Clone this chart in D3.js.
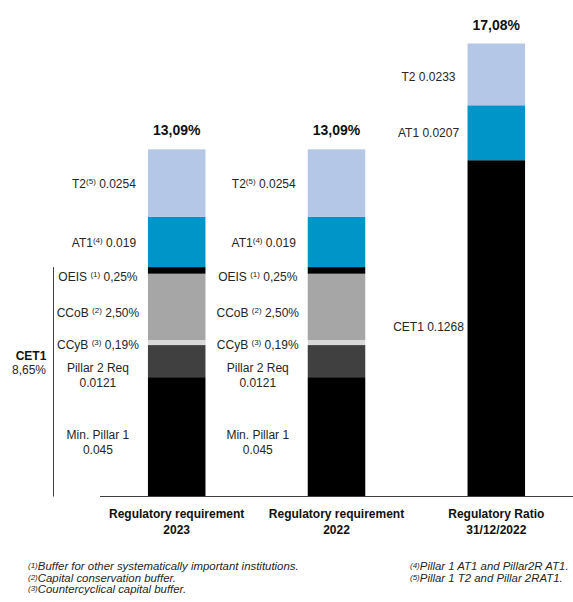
<!DOCTYPE html>
<html>
<head>
<meta charset="utf-8">
<script src="https://cdn.jsdelivr.net/npm/d3@7"></script>
<style>
  html, body { margin: 0; padding: 0; background: #fff; }
  svg { display: block; font-family: "Liberation Sans", Arial, sans-serif; }
</style>
</head>
<body>
<svg id="chart" width="573" height="602"></svg>
<script>
// Capital stack values, in percent of risk-weighted assets
const categories = ["Regulatory requirement\n2023", "Regulatory requirement\n2022", "Regulatory Ratio\n31/12/2022"];
const totalLabels = ["13,09%", "13,09%", "17,08%"];

// Requirement bars (2023 and 2022 share the same composition), bottom to top
const reqComponents = ["Min. Pillar 1", "Pillar 2 Req", "CCyB", "CCoB", "OEIS", "AT1", "T2"];
const req2023 = [4.5, 1.21, 0.19, 2.5, 0.25, 1.9, 2.54];
const req2022 = [4.5, 1.21, 0.19, 2.5, 0.25, 1.9, 2.54];
const reqLabels = [
  ["Min. Pillar 1", "0.045"],
  ["Pillar 2 Req", "0.0121"],
  ["CCyB", "(3)", " 0,19%"],
  ["CCoB", "(2)", " 2,50%"],
  ["OEIS", "(1)", " 0,25%"],
  ["AT1", "(4)", " 0.019"],
  ["T2", "(5)", " 0.0254"]
];

// Actual ratio bar, bottom to top
const ratioComponents = ["CET1", "AT1", "T2"];
const ratio2022 = [12.68, 2.07, 2.33];
const ratioLabels = [["CET1 0.1268"], ["AT1 0.0207"], ["T2 0.0233"]];

const cet1Label = ["CET1", "8,65%"];

const footnotesLeft = [
  ["(1)", "Buffer for other systematically important institutions."],
  ["(2)", "Capital conservation buffer."],
  ["(3)", "Countercyclical capital buffer."]
];
const footnotesRight = [
  ["(4)", "Pillar 1 AT1 and Pillar2R AT1."],
  ["(5)", "Pillar 1 T2 and Pillar 2RAT1."]
];

// ---- styling ----
const reqColors = ["#000000", "#404040", "#d9d9d9", "#a6a6a6", "#000000", "#0095c8", "#b4c7e7"];
const ratioColors = ["#000000", "#0095c8", "#b4c7e7"];
const reqNudge = [5, 14, 2, 6, 6, 1, 1];
const ratioNudge = [-2, 0, 2];
const textColor = "#262626";
const labelSize = 12;

const svg = d3.select("#chart");
const baseY = 496.5;

const y = d3.scaleLinear().domain([0, 17.08]).range([baseY, 43.5]);
const x = d3.scaleBand().domain(d3.range(3)).range([100, 573]).paddingInner(0.64).paddingOuter(0.3);

// stack helper
function stackOf(vals) {
  let acc = 0;
  return vals.map(v => { const s = { y0: acc, y1: acc + v, v }; acc += v; return s; });
}

const series = [
  { vals: req2023, colors: reqColors, labels: reqLabels, nudge: reqNudge },
  { vals: req2022, colors: reqColors, labels: reqLabels, nudge: reqNudge },
  { vals: ratio2022, colors: ratioColors, labels: ratioLabels, nudge: ratioNudge }
];

series.forEach((s, i) => {
  const g = svg.append("g");
  const st = stackOf(s.vals);
  const x0 = x(i), bw = x.bandwidth();
  g.selectAll("rect").data(st).join("rect")
    .attr("x", x0).attr("width", bw)
    .attr("y", d => y(d.y1)).attr("height", d => y(d.y0) - y(d.y1))
    .attr("fill", (d, k) => s.colors[k]);

  // segment labels, centred to the left of the bar
  st.forEach((d, k) => {
    const lab = s.labels[k];
    const cy = (y(d.y0) + y(d.y1)) / 2 + s.nudge[k];
    const isUpper = i < 2 && k >= 5;
    const cx = i === 2 ? x0 - 39 : x0 - (isUpper ? 44 : 50);
    const t = g.append("text").attr("x", cx).attr("text-anchor", "middle")
      .attr("font-size", labelSize).attr("fill", textColor);
    if (lab.length === 3) {
      t.attr("y", cy).attr("dy", "0.35em");
      t.append("tspan").text(lab[0] + (k === 5 || k === 6 ? "" : " "));
      t.append("tspan").attr("font-size", 8).attr("dy", -4).text(lab[1]);
      t.append("tspan").attr("dy", 4).text(lab[2]);
    } else if (lab.length === 2) {
      t.append("tspan").attr("x", cx).attr("y", cy - 7.5).attr("dy", "0.35em").text(lab[0]);
      t.append("tspan").attr("x", cx).attr("y", cy + 7.5).attr("dy", "0.35em").text(lab[1]);
    } else {
      t.attr("y", cy).attr("dy", "0.35em").text(lab[0]);
    }
  });

  // total on top
  const total = d3.sum(s.vals);
  svg.append("text").attr("x", x0 + bw / 2).attr("y", y(total) - 14)
    .attr("text-anchor", "middle").attr("font-size", 14).attr("font-weight", "bold")
    .attr("fill", "#111").text(totalLabels[i]);

  // category label
  const lines = categories[i].split("\n");
  const ct = svg.append("text").attr("text-anchor", "middle")
    .attr("font-size", 12).attr("font-weight", "bold").attr("fill", "#111");
  lines.forEach((ln, j) => ct.append("tspan").attr("x", x0 + bw / 2)
    .attr("y", 513.5 + j * 16).attr("dy", "0.35em").text(ln));
});

// baseline
svg.append("line").attr("x1", 100).attr("x2", 573).attr("y1", baseY).attr("y2", baseY)
  .attr("stroke", "#404040").attr("stroke-width", 1.2);

// CET1 bracket
const cet1Top = y(d3.sum(req2023.slice(0, 5)));
svg.append("line").attr("x1", 53.5).attr("x2", 53.5).attr("y1", cet1Top).attr("y2", baseY)
  .attr("stroke", "#404040").attr("stroke-width", 1);
svg.append("text").attr("x", 31).attr("y", 356).attr("dy", "0.35em").attr("text-anchor", "middle")
  .attr("font-size", 12).attr("font-weight", "bold").attr("fill", "#111").text(cet1Label[0]);
svg.append("text").attr("x", 29).attr("y", 369.5).attr("dy", "0.35em").attr("text-anchor", "middle")
  .attr("font-size", 12).attr("fill", textColor).text(cet1Label[1]);

// footnotes
function footnote(list, fx, fy0) {
  list.forEach((f, j) => {
    const t = svg.append("text").attr("x", fx).attr("y", fy0 + j * 11.5).attr("dy", "0.35em")
      .attr("font-size", 11.4).attr("font-style", "italic").attr("fill", textColor);
    t.append("tspan").attr("font-size", 8).attr("dy", "-0.15em").text(f[0]);
    t.append("tspan").attr("dy", "0.15em").text(f[1]);
  });
}
footnote(footnotesLeft, 28, 569.5);
footnote(footnotesRight, 410, 569.5);
</script>
</body>
</html>
